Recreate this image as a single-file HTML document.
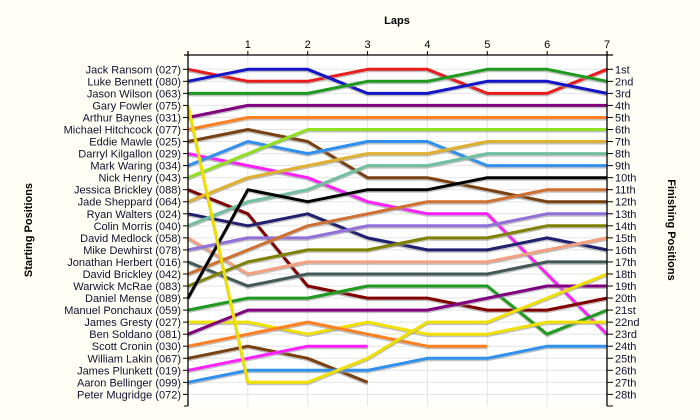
<!DOCTYPE html>
<html><head><meta charset="utf-8"><style>
html,body{margin:0;padding:0;background:#fffff5;}
svg{display:block;font-family:"Liberation Sans",Arial,sans-serif;}
</style></head><body>
<svg id="chart" width="700" height="420" viewBox="0 0 700 420" xmlns="http://www.w3.org/2000/svg">
<rect x="188" y="55" width="419" height="351" fill="#ffffff"/>
<g id="grid"></g>
<g id="series"></g>
<g id="axes"></g>
<text x="397" y="24" font-size="11" font-weight="bold" text-anchor="middle" fill="#000">Laps</text>
<text transform="translate(32,230) rotate(-90)" font-size="11" font-weight="bold" text-anchor="middle" fill="#000">Starting Positions</text>
<text transform="translate(668,230) rotate(90)" font-size="11" font-weight="bold" text-anchor="middle" fill="#000">Finishing Positions</text>
</svg>
<script>
const laps = [0,1,2,3,4,5,6,7];
const lapLabels = ["1","2","3","4","5","6","7"];
const drivers = ["Jack Ransom (027)","Luke Bennett (080)","Jason Wilson (063)","Gary Fowler (075)","Arthur Baynes (031)","Michael Hitchcock (077)","Eddie Mawle (025)","Darryl Kilgallon (029)","Mark Waring (034)","Nick Henry (043)","Jessica Brickley (088)","Jade Sheppard (064)","Ryan Walters (024)","Colin Morris (040)","David Medlock (058)","Mike Dewhirst (078)","Jonathan Herbert (016)","David Brickley (042)","Warwick McRae (083)","Daniel Mense (089)","Manuel Ponchaux (059)","James Gresty (027)","Ben Soldano (081)","Scott Cronin (030)","William Lakin (067)","James Plunkett (019)","Aaron Bellinger (099)","Peter Mugridge (072)"];
const finishLabels = ["1st","2nd","3rd","4th","5th","6th","7th","8th","9th","10th","11th","12th","13th","14th","15th","16th","17th","18th","19th","20th","21st","22nd","23rd","24th","25th","26th","27th","28th"];
const pos_jack = [1,2,2,1,1,3,3,1];
const pos_luke = [2,1,1,3,3,2,2,3];
const pos_jason = [3,3,3,2,2,1,1,2];
const pos_gary = [4,27,27,25,22,22,20,18];
const pos_arthur = [5,4,4,4,4,4,4,4];
const pos_michael = [6,5,5,5,5,5,5,5];
const pos_eddie = [7,6,7,10,10,11,12,12];
const pos_darryl = [8,9,10,12,13,13,18,23];
const pos_mark = [9,7,8,7,7,9,9,9];
const pos_nick = [10,8,6,6,6,6,6,6];
const pos_jessica = [11,13,19,20,20,21,21,20];
const pos_jade = [12,10,9,8,8,7,7,7];
const pos_ryan = [13,14,13,15,16,16,15,16];
const pos_colin = [14,12,11,9,9,8,8,8];
const pos_davidm = [15,18,17,17,17,17,16,15];
const pos_mike = [16,15,15,14,14,14,13,13];
const pos_jonathan = [17,19,18,18,18,18,17,17];
const pos_davidb = [18,16,14,13,12,12,11,11];
const pos_warwick = [19,17,16,16,15,15,14,14];
const pos_daniel = [20,11,12,11,11,10,10,10];
const pos_manuel = [21,20,20,19,19,19,23,21];
const pos_jamesg = [22,22,23,22,23,23,22,22];
const pos_ben = [23,21,21,21,21,20,19,19];
const pos_scott = [24,23,22,23,24,24];
const pos_william = [25,24,25,27];
const pos_jamesp = [26,25,24,24];
const pos_aaron = [27,26,26,26,25,25,24,24];
const seriesList = [
 ["jack-ransom",pos_jack,"#e81c1c"],["luke-bennett",pos_luke,"#1414c8"],["jason-wilson",pos_jason,"#1e9a1e"],
 ["arthur-baynes",pos_arthur,"#800080"],["michael-hitchcock",pos_michael,"#ff8020"],["eddie-mawle",pos_eddie,"#7a4010"],
 ["darryl-kilgallon",pos_darryl,"#ff20ff"],["mark-waring",pos_mark,"#3090f0"],["nick-henry",pos_nick,"#90e020"],
 ["jessica-brickley",pos_jessica,"#800000"],["jade-sheppard",pos_jade,"#e0b030"],["ryan-walters",pos_ryan,"#202070"],
 ["colin-morris",pos_colin,"#70c0a0"],["david-medlock",pos_davidm,"#f4a080"],["mike-dewhirst",pos_mike,"#9070d8"],
 ["jonathan-herbert",pos_jonathan,"#405858"],["david-brickley",pos_davidb,"#d07030"],["warwick-mcrae",pos_warwick,"#808000"],
 ["daniel-mense",pos_daniel,"#000000"],["manuel-ponchaux",pos_manuel,"#1e9a1e"],["james-gresty",pos_jamesg,"#f0e000"],
 ["ben-soldano",pos_ben,"#800080"],["scott-cronin",pos_scott,"#ff8020"],["william-lakin",pos_william,"#7a4010"],
 ["james-plunkett",pos_jamesp,"#ff20ff"],["aaron-bellinger",pos_aaron,"#3090f0"],["gary-fowler",pos_gary,"#f0e000"]
];
const NS="http://www.w3.org/2000/svg";
const X0=188, X1=607, Y1=69.3, DY=12.04;
function xs(l){return X0+(X1-X0)*l/7;}
function ys(p){return Y1+(p-1)*DY;}
function mk(tag,attrs,parent){const e=document.createElementNS(NS,tag);for(const k in attrs)e.setAttribute(k,attrs[k]);parent.appendChild(e);return e;}
const grid=document.getElementById('grid'), axes=document.getElementById('axes'), ser=document.getElementById('series');
finishLabels.forEach((f,i)=>{
  const g=mk('line',{x1:X0,x2:X1,y1:ys(i+1),y2:ys(i+1),stroke:'#e4e4e4','stroke-width':1},grid);
  
  
});
laps.forEach(l=>{ if(l===0)return;
  const g=mk('line',{x1:xs(l),x2:xs(l),y1:55,y2:406,stroke:'#e4e4e4','stroke-width':1},grid);
  
  
});
seriesList.forEach(s=>{
  const pts=s[1].map((p,i)=>xs(laps[i]).toFixed(1)+','+ys(p).toFixed(1)).join(' ');
  const sh=mk('polyline',{points:pts,fill:'none',stroke:'#999','stroke-width':3,'stroke-linejoin':'round',transform:'translate(0,1.5)',opacity:0.6},ser);
  
  
  const pl=mk('polyline',{points:pts,fill:'none',stroke:s[2],'stroke-width':3,'stroke-linejoin':'round'},ser);
  
  
});
mk('line',{x1:X0,x2:X0,y1:51,y2:406,stroke:'#000','stroke-width':1.3},axes);
mk('line',{x1:X1,x2:X1,y1:51,y2:406,stroke:'#000','stroke-width':1.3},axes);
mk('line',{x1:X0-4,x2:X1+6,y1:55,y2:55,stroke:'#000','stroke-width':1.3},axes);
mk('line',{x1:X0-4,x2:X0,y1:406,y2:406,stroke:'#000','stroke-width':1},axes);
mk('line',{x1:X1,x2:X1+6,y1:406,y2:406,stroke:'#000','stroke-width':1},axes);
lapLabels.forEach((t,i)=>{
  const x=xs(i+1);
  mk('line',{x1:x,x2:x,y1:51,y2:55,stroke:'#000','stroke-width':1},axes);
  const tx=mk('text',{x:x,y:48,'font-size':11,'text-anchor':'middle',fill:'#000'},axes);
  tx.textContent=t;
  
  
});
drivers.forEach((d,i)=>{
  const y=ys(i+1);
  mk('line',{x1:X0-5,x2:X0,y1:y,y2:y,stroke:'#000','stroke-width':1},axes);
  const tx=mk('text',{x:X0-7,y:y+4,'font-size':11,'text-anchor':'end',fill:'#101030'},axes);
  tx.textContent=d;
  
  
});
finishLabels.forEach((f,i)=>{
  const y=ys(i+1);
  mk('line',{x1:X1,x2:X1+6,y1:y,y2:y,stroke:'#000','stroke-width':1},axes);
  const tx=mk('text',{x:X1+8,y:y+4,'font-size':11,'text-anchor':'start',fill:'#101030'},axes);
  tx.textContent=f;
  
  
});
</script>
</body></html>
